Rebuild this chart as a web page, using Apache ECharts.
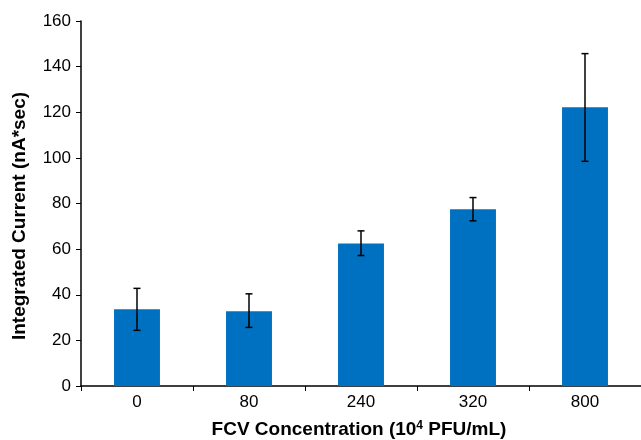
<!DOCTYPE html>
<html>
<head>
<meta charset="utf-8">
<script src="https://cdn.jsdelivr.net/npm/echarts@6/dist/echarts.min.js"></script>
<style>
html,body{margin:0;padding:0;background:#fff;}
#chart{width:641px;height:440px;}
</style>
</head>
<body>
<div id="chart"></div>
<script>
const categories = ['0', '80', '240', '320', '800'];
const values = [33.6, 32.8, 62.5, 77.5, 122.2];
const errLow = [24.4, 25.7, 57.2, 72.4, 98.5];
const errHigh = [42.8, 40.4, 68.0, 82.6, 145.7];
const yTicks = [0, 20, 40, 60, 80, 100, 120, 140, 160];

const errData = categories.map((c, i) => [i, errLow[i], errHigh[i]]);
const font = 'Liberation Sans, Arial, Helvetica, sans-serif';

const chart = echarts.init(document.getElementById('chart'));
chart.setOption({
  animation: false,
  backgroundColor: '#fff',
  grid: { left: 81, right: 0, top: 21, bottom: 54, containLabel: false },
  xAxis: {
    type: 'category',
    data: categories,
    axisLine: { lineStyle: { color: '#000', width: 1.5 } },
    axisTick: { show: true, length: 5, lineStyle: { color: '#000', width: 1 }, alignWithLabel: false },
    axisLabel: { color: '#000', fontSize: 17, fontFamily: font, margin: 8 }
  },
  yAxis: {
    type: 'value',
    min: yTicks[0], max: yTicks[yTicks.length - 1], interval: 20,
    axisLine: { show: true, lineStyle: { color: '#000', width: 1.5 } },
    axisTick: { show: true, length: 5, lineStyle: { color: '#000', width: 1 } },
    axisLabel: { color: '#000', fontSize: 17, fontFamily: font, margin: 10 },
    splitLine: { show: false }
  },
  graphic: [
    {
      type: 'text',
      x: 20, y: 216,
      rotation: Math.PI / 2,
      style: {
        text: 'Integrated Current (nA*sec)',
        fontSize: 19, fontWeight: 'bold', fontFamily: font, fill: '#000',
        align: 'center', verticalAlign: 'middle'
      }
    },
    {
      type: 'text',
      x: 359, y: 430,
      style: {
        text: '{a|FCV Concentration (10}{s|4}{a| PFU/mL)}',
        align: 'center', verticalAlign: 'middle',
        rich: {
          a: { fontSize: 19, fontWeight: 'bold', fontFamily: font, color: '#000' },
          s: { fontSize: 12, fontWeight: 'bold', fontFamily: font, color: '#000', verticalAlign: 'bottom', padding: [0, 0, 9, 0] }
        }
      }
    }
  ],
  series: [
    {
      type: 'bar',
      data: values,
      barWidth: '41%',
      itemStyle: { color: '#0070C0' }
    },
    {
      type: 'custom',
      data: errData,
      z: 10,
      renderItem: function (params, api) {
        const x = api.value(0);
        const lo = api.coord([x, api.value(1)]);
        const hi = api.coord([x, api.value(2)]);
        const hw = 3.5;
        const st = { stroke: '#000', lineWidth: 1.5 };
        return {
          type: 'group',
          children: [
            { type: 'line', shape: { x1: lo[0], y1: lo[1], x2: hi[0], y2: hi[1] }, style: st },
            { type: 'line', shape: { x1: lo[0] - hw, y1: lo[1], x2: lo[0] + hw, y2: lo[1] }, style: st },
            { type: 'line', shape: { x1: hi[0] - hw, y1: hi[1], x2: hi[0] + hw, y2: hi[1] }, style: st }
          ]
        };
      }
    }
  ]
});
</script>
</body>
</html>
